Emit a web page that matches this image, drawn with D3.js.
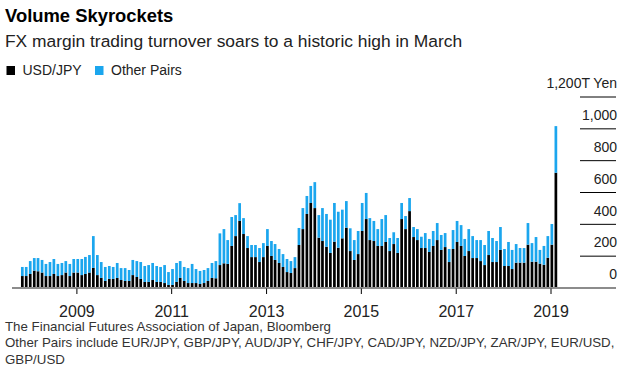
<!DOCTYPE html>
<meta charset="utf-8">
<style>
  body { margin: 0; background: #fff; }
  text { font-family: "Liberation Sans", Arial, Helvetica, sans-serif; }
</style>
<body>
<script src="https://cdn.jsdelivr.net/npm/d3@7"></script>
<script>
// monthly turnover, trillion yen (Nov 2007 .. Feb 2019)
var usdJpy = [72,72,85,106,102,94,72,72,85,72,78,94,72,94,94,78,85,94,123,78,60,41,54,54,
  60,47,41,41,78,66,54,35,35,47,35,35,28,16,16,35,60,41,28,28,28,22,28,41,60,
  58,141,152,148,261,323,418,336,248,191,191,160,191,261,198,173,154,129,97,91,122,267,367,462,531,499,
  313,292,256,217,288,250,309,376,229,173,210,355,430,298,292,261,261,286,229,273,217,430,367,480,317,
  298,248,248,223,261,298,236,254,160,242,286,261,198,229,185,185,166,141,204,160,160,236,135,135,116,
  156,156,156,269,162,162,150,143,187,269,721];
var otherPairs = [57,57,81,79,83,79,76,88,94,76,76,72,76,85,85,101,107,110,200,126,100,88,81,75,
  94,75,81,69,95,100,106,100,106,107,100,94,113,81,100,119,106,88,94,120,88,82,82,81,94,
  108,199,215,150,182,132,112,100,75,76,76,88,88,106,94,100,88,81,82,75,69,107,132,113,107,163,
  142,207,206,209,243,226,180,167,143,125,145,176,164,138,126,106,169,169,82,74,94,101,82,82,63,
  69,71,94,82,94,107,94,88,82,119,132,131,107,138,138,113,132,126,151,151,132,144,107,151,120,
  117,92,92,136,117,155,86,118,136,130,293];
var months = d3.timeMonths(new Date(2007, 10, 1), new Date(2019, 2, 1));
var yearTicks = [2009, 2011, 2013, 2015, 2017, 2019];
var yTicks = [0, 200, 400, 600, 800, 1000, 1200];
var seriesNames = ["USD/JPY", "Other Pairs"];
var colors = ["#000000", "#1ba6ee"];

var width = 621, height = 370;

var svg = d3.select("body").append("svg")
    .attr("width", width)
    .attr("height", height);

var x = d3.scaleTime()
    .domain([new Date(2009, 0, 1), new Date(2019, 0, 1)])
    .range([76.4, 550.5]);
var y = d3.scaleLinear().domain([0, 1200]).range([287.5, 96.5]);

// titles
svg.append("text").attr("x", 5).attr("y", 22)
    .style("font-size", "18.4px").style("font-weight", "bold").attr("fill", "#000")
    .text("Volume Skyrockets");
svg.append("text").attr("x", 5).attr("y", 47)
    .style("font-size", "17.4px").attr("fill", "#222")
    .text("FX margin trading turnover soars to a historic high in March");

// legend
var leg = svg.append("g").selectAll("g").data(seriesNames).enter().append("g")
    .attr("transform", function(d, i) { return "translate(" + [6.5, 95][i] + ",0)"; });
leg.append("rect").attr("y", 66).attr("width", 8.5).attr("height", 9)
    .attr("fill", function(d, i) { return colors[i]; });
leg.append("text").attr("x", 16).attr("y", 75.3)
    .style("font-size", "14px").attr("fill", "#222")
    .text(function(d) { return d; });

// bars
var rows = months.map(function(m, i) { return {date: m, usd: usdJpy[i], other: otherPairs[i]}; });
var stack = d3.stack().keys(["usd", "other"])(rows);

svg.append("g").selectAll("g").data(stack).enter().append("g")
    .attr("fill", function(d, i) { return colors[i]; })
  .selectAll("rect").data(function(d) { return d; }).enter().append("rect")
    .attr("x", function(d) { return x(d.data.date); })
    .attr("width", 2.7)
    .attr("y", function(d) { return y(d[1]); })
    .attr("height", function(d) { return y(d[0]) - y(d[1]); });

// y axis: short rules at the right with labels sitting on them
var yAxis = svg.append("g")
    .attr("transform", "translate(616,0)")
    .call(d3.axisLeft(y).tickValues(yTicks).tickSize(36)
      .tickFormat(function(d) { return d === 1200 ? "1,200T Yen" : d3.format(",")(d); }));
yAxis.select(".domain").remove();
yAxis.selectAll(".tick line").attr("stroke", "#000")
    .filter(function(d) { return d === 0; }).remove();
yAxis.selectAll(".tick text")
    .attr("x", 1).attr("dy", "-0.62em")
    .attr("fill", "#222")
    .style("font-size", "14px").style("font-family", "'Liberation Sans', Arial, sans-serif");

// baseline
svg.append("line").attr("x1", 12).attr("x2", 616)
    .attr("y1", y(0) + 0.5).attr("y2", y(0) + 0.5)
    .attr("stroke", "#8c8c8c").attr("stroke-width", 2);

// x axis
var xAxis = svg.append("g")
    .attr("transform", "translate(0,288.5)")
    .call(d3.axisBottom(x)
      .tickValues(yearTicks.map(function(yr) { return new Date(yr, 0, 1); }))
      .tickSize(5.5).tickPadding(12)
      .tickFormat(d3.timeFormat("%Y")));
xAxis.select(".domain").remove();
xAxis.selectAll(".tick line").attr("stroke", "#000");
xAxis.selectAll(".tick text").attr("fill", "#222")
    .style("font-size", "16px").style("font-family", "'Liberation Sans', Arial, sans-serif");

// footnotes
var notes = ["The Financial Futures Association of Japan, Bloomberg",
  "Other Pairs include EUR/JPY, GBP/JPY, AUD/JPY, CHF/JPY, CAD/JPY, NZD/JPY, ZAR/JPY, EUR/USD,",
  "GBP/USD"];
svg.append("g").selectAll("text").data(notes).enter().append("text")
    .attr("x", 5).attr("y", function(d, i) { return 331 + i * 16.3; })
    .style("font-size", "13.3px").attr("fill", "#333")
    .text(function(d) { return d; });
</script>
</body>
